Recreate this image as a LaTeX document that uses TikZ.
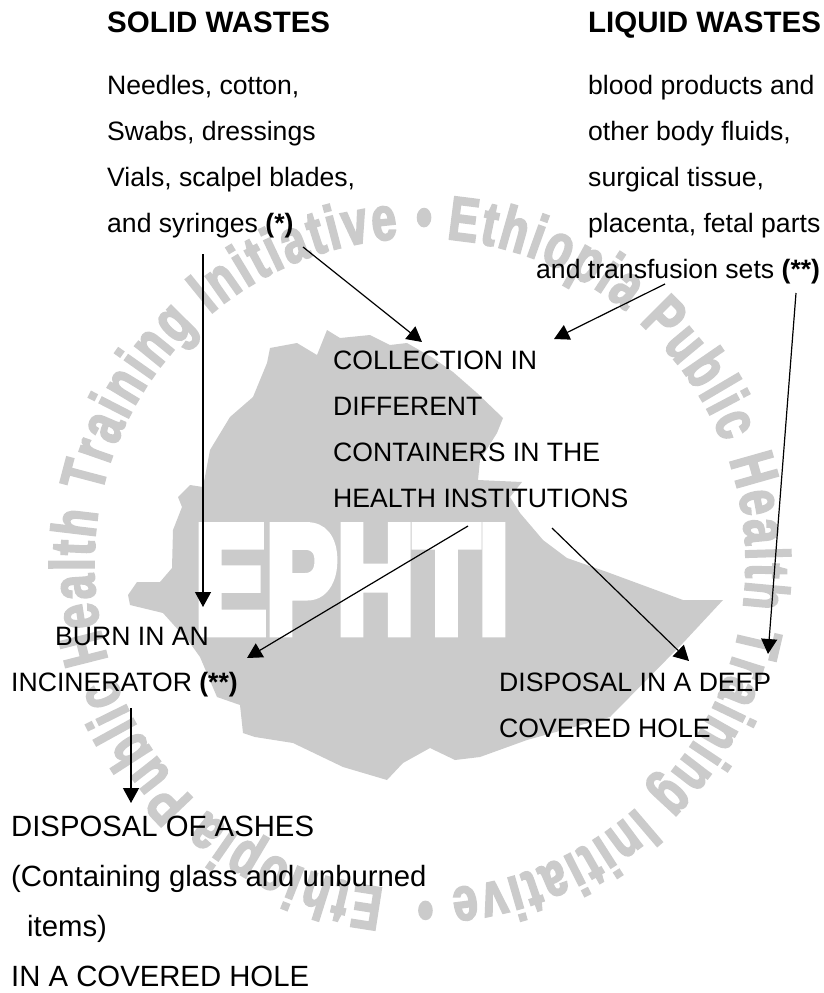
\documentclass[tikz,border=0pt]{standalone}
\usepackage{fontspec}
\setmainfont{Liberation Sans}
\newfontfamily\wmfont[FakeStretch=0.72,FakeBold=3]{Liberation Sans}
\newfontfamily\logofont[FakeBold=7]{Liberation Sans}
\usetikzlibrary{arrows.meta,decorations.text}
\definecolor{wmgray}{HTML}{CBCBCB}
\tikzset{
  lbl/.style={anchor=north west,inner sep=0pt,align=left,font=\fontsize{26.6}{46}\selectfont},
  biglbl/.style={anchor=north west,inner sep=0pt,align=left,font=\fontsize{29.3}{50}\selectfont},
  head/.style={anchor=base west,inner sep=0pt,font=\fontsize{29.5}{32}\selectfont\bfseries},
  single/.style={anchor=base west,inner sep=0pt,font=\fontsize{26.6}{30}\selectfont},
  conn/.style={draw=black,line width=1.2pt,-{Triangle[length=15pt,width=16pt]}},
  mapshape/.style={fill=wmgray,draw=none}
}
\begin{document}
\begin{tikzpicture}[x=1pt,y=-1pt]
\useasboundingbox (0,0) rectangle (823,993);
% watermark map
\path[mapshape] (327,330) -- (340,338) -- (370,335) -- (390,345) -- (407,343) -- (433,358) -- (453,372) -- (477,393) -- (503,418) -- (497,433) -- (480,460) -- (478,480) -- (522,482) -- (510,497) -- (520,513) -- (543,540) -- (567,558) -- (607,572) -- (683,600) -- (723,600) -- (683,643) -- (610,717) -- (527,740) -- (480,757) -- (455,760) -- (430,748) -- (403,763) -- (387,780) -- (343,767) -- (293,743) -- (255,737) -- (243,733) -- (240,705) -- (217,697) -- (200,657) -- (190,643) -- (163,613) -- (130,605) -- (128,595) -- (137,582) -- (160,582) -- (172,568) -- (173,530) -- (182,507) -- (178,497) -- (190,485) -- (203,487) -- (210,450) -- (230,417) -- (253,397) -- (267,363) -- (270,348) -- (297,343) -- (317,355) -- cycle;
\node[inner sep=0pt,anchor=base,text=white,xscale=0.7,font=\fontsize{152}{170}\logofont\bfseries] (ephti) at (352,632) {EPHTI};
% watermark ring
\begin{scope}[shift={(420pt,-564pt)}]
\path[decorate,decoration={text along path,text align=fit to path,
  text={|\wmfont\fontsize{62}{62}\selectfont\bfseries\color{wmgray}|~Ethiopia Public Health Training Initiative~•~~Ethiopia Public Health Training Initiative~•}}]
  (88:326pt) arc[start angle=88,end angle=-272,radius=326pt];
\end{scope}
% texts
\node[head] (solid) at (107,32) {SOLID WASTES};
\node[head] (liquid) at (588,32) {LIQUID WASTES};
\node[lbl] (solidlist) at (107,74.6) {Needles, cotton,\\Swabs, dressings\\Vials, scalpel blades,\\and syringes \textbf{(*)}};
\node[lbl] (liquidlist) at (588,74.6) {blood products and\\other body fluids,\\surgical tissue,\\placenta, fetal parts};
\node[single] (sets) at (536,278) {and transfusion sets \textbf{(**)}};
\node[lbl] (collect) at (333,350.6) {COLLECTION IN\\DIFFERENT\\CONTAINERS IN THE\\HEALTH INSTITUTIONS};
\node[lbl] (burn) at (11,626.6) {\hspace{44pt}BURN IN AN\\INCINERATOR \textbf{(**)}};
\node[lbl] (deep) at (499,672.6) {DISPOSAL IN A DEEP\\COVERED HOLE};
\node[biglbl] (ashes) at (11,816) {DISPOSAL OF ASHES\\(Containing glass and unburned\\\hspace{16pt}items)\\IN A COVERED HOLE};
% connector ends
\coordinate (a1s) at (203,254); \coordinate (a1e) at (203,607);
\coordinate (a2s) at (303,247); \coordinate (a2e) at (422,342);
\coordinate (a3s) at (665,284); \coordinate (a3e) at (554,339);
\coordinate (a4s) at (796,293); \coordinate (a4e) at (768,654);
\coordinate (a5s) at (468,526); \coordinate (a5e) at (247,658);
\coordinate (a6s) at (552,528); \coordinate (a6e) at (689,661);
\coordinate (a7s) at (131,708); \coordinate (a7e) at (131,803);
\draw[conn] (a1s) -- (a1e);
\draw[conn] (a2s) -- (a2e);
\draw[conn] (a3s) -- (a3e);
\draw[conn] (a4s) -- (a4e);
\draw[conn] (a5s) -- (a5e);
\draw[conn] (a6s) -- (a6e);
\draw[conn] (a7s) -- (a7e);
\end{tikzpicture}
\end{document}
